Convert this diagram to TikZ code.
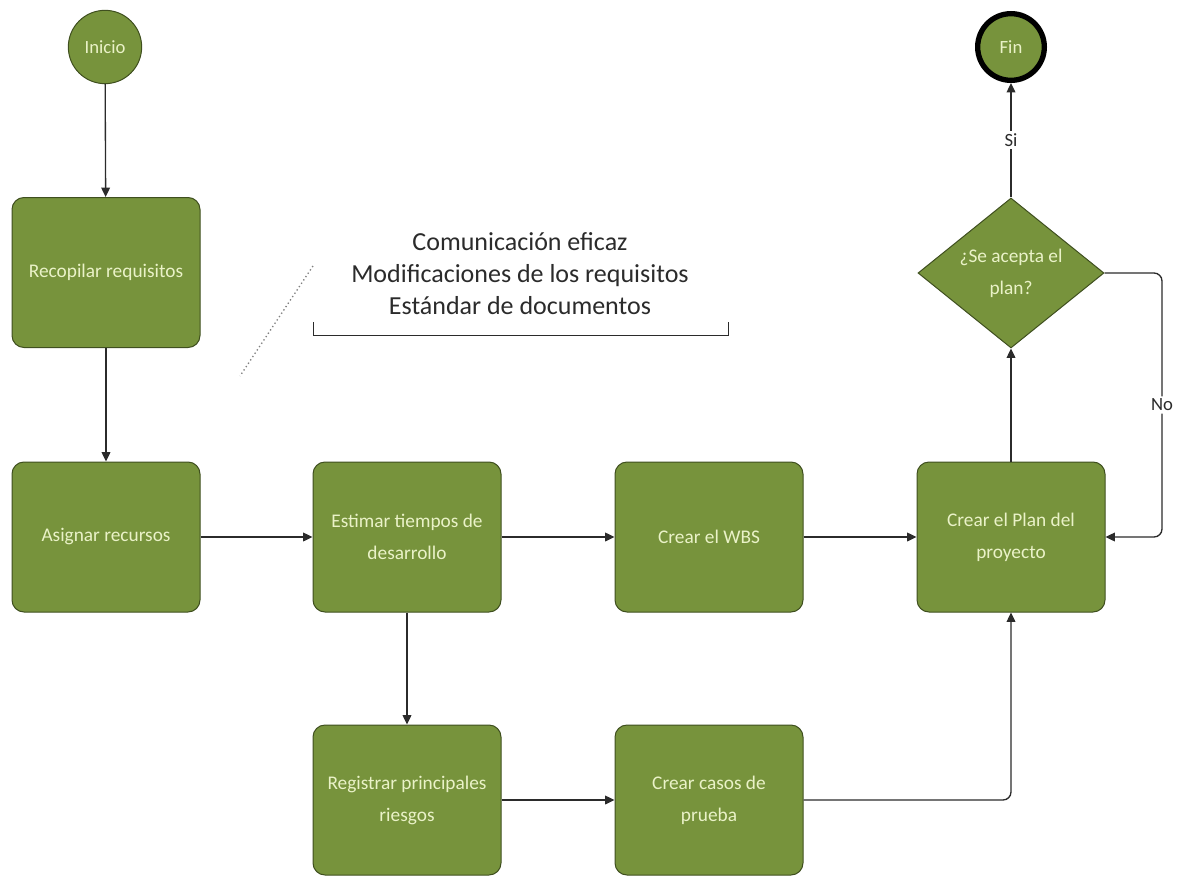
\documentclass[tikz,border=0pt]{standalone}
\usepackage{fontspec}
\setmainfont{Carlito}
\usetikzlibrary{shapes.geometric,arrows.meta}

\definecolor{boxgreen}{HTML}{77933C}
\definecolor{boxedge}{HTML}{3F4F1F}
\definecolor{boxtext}{HTML}{EAF2C8}
\definecolor{linegray}{HTML}{2B2B2B}

\tikzset{every picture/.style={line width=0.75pt}}
\tikzset{
  procbox/.style={draw=boxedge, fill=boxgreen, rounded corners=9pt, minimum width=141pt,
    minimum height=112.5pt, align=center, text=boxtext, font=\fontsize{14.5}{24}\selectfont},
  endpoint/.style={circle, draw=boxedge, fill=boxgreen, minimum size=55pt, inner sep=0pt,
    text=boxtext, font=\fontsize{14}{16}\selectfont},
  decision/.style={diamond, draw=boxedge, fill=boxgreen, minimum width=139.5pt, minimum height=112.5pt,
    inner sep=0pt, aspect=1.24, align=center, text=boxtext, font=\fontsize{14.5}{24}\selectfont},
  flow/.style={draw=linegray, line width=1pt, -{Triangle[length=7pt,width=6.5pt]}},
  lbl/.style={fill=white, inner sep=2pt, text=linegray, font=\fontsize{14}{16}\selectfont}
}

\begin{document}
\begin{tikzpicture}[x=0.75pt,y=0.75pt,yscale=-1,xscale=1]
\useasboundingbox (0,0) rectangle (1182,878);

%Shape: Circle [inicio]
\node[endpoint] (inicio) at (105,47) {Inicio};
%Shape: Circle [fin]
\node[endpoint, line width=4pt, draw=black, minimum size=50pt] (fin) at (1011,47) {Fin};

%Shape: Rounded Rectangle
\node[procbox] (recopilar) at (106,272.5) {Recopilar requisitos};
%Shape: Rounded Rectangle
\node[procbox] (asignar) at (106,537) {Asignar recursos};
%Shape: Rounded Rectangle
\node[procbox] (estimar) at (407,537) {Estimar tiempos de\\desarrollo};
%Shape: Rounded Rectangle
\node[procbox] (wbs) at (709,537) {Crear el WBS};
%Shape: Rounded Rectangle
\node[procbox] (plan) at (1011,537) {Crear el Plan del\\proyecto};
%Shape: Rounded Rectangle
\node[procbox] (riesgos) at (407,800) {Registrar principales\\riesgos};
%Shape: Rounded Rectangle
\node[procbox] (casos) at (709,800) {Crear casos de\\prueba};
%Shape: Diamond
\node[decision] (acepta) at (1011,273) {¿Se acepta el\\plan?};

% Text Node
\node[align=center, text=linegray, font=\fontsize{19.5}{24}\selectfont] (nota) at (520,274)
  {Comunicación eficaz\\Modificaciones de los requisitos\\Estándar de documentos};
%Shape: Bracket
\draw[linegray] (313,322) -- (313,335) -- (728,335) -- (728,322);
\coordinate (notaA) at (313,266);
\coordinate (notaB) at (240,376);
\draw[gray, dotted, line width=1pt] (notaA) -- (notaB);

% Connectors
\draw[flow] (inicio) -- (recopilar);
\draw[flow] (recopilar) -- (asignar);
\draw[flow] (asignar) -- (estimar);
\draw[flow] (estimar) -- (wbs);
\draw[flow] (wbs) -- (plan);
\draw[flow] (estimar) -- (riesgos);
\draw[flow] (riesgos) -- (casos);
\draw[flow, rounded corners=6pt] (casos.east) -| (plan.south);
\draw[flow] (plan) -- (acepta);
\draw[flow] (acepta) -- node[lbl] {Si} (fin);
\coordinate (noturn) at (1162,537);
\draw[flow, rounded corners=6pt] (acepta.east) -| node[lbl, pos=0.75] {No} (noturn) -- (plan.east);

\end{tikzpicture}
\end{document}
